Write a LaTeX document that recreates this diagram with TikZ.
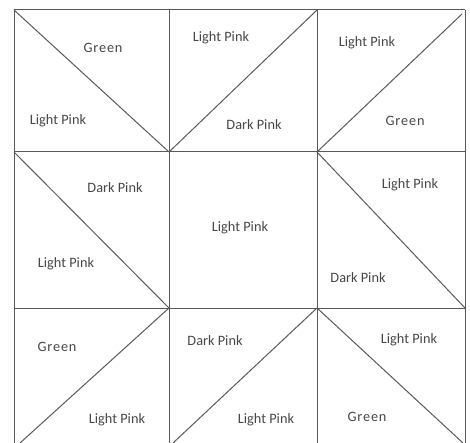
\documentclass[tikz,border=0pt]{standalone}
\usepackage{fontspec}
\setmainfont{Carlito}
\begin{document}
\begin{tikzpicture}[x=1pt,y=-1pt,
  gridline/.style={draw=black!65, line width=1pt},
  lbl/.style={font=\fontsize{14.3}{16}\selectfont, text=black!72, inner sep=0pt},
  grn/.style={lbl, font=\fontsize{14.3}{16}\selectfont\addfontfeatures{LetterSpace=6}}]
\useasboundingbox (0,0) rectangle (470,443);
% grid corners
\coordinate (a0) at (14,10);  \coordinate (a1) at (169,10);  \coordinate (a2) at (317,10);  \coordinate (a3) at (465,10);
\coordinate (b0) at (14,152); \coordinate (b1) at (169,152); \coordinate (b2) at (317,152); \coordinate (b3) at (465,152);
\coordinate (c0) at (14,308); \coordinate (c1) at (169,308); \coordinate (c2) at (317,308); \coordinate (c3) at (465,308);
\coordinate (d0) at (14,443); \coordinate (d1) at (169,443); \coordinate (d2) at (317,443); \coordinate (d3) at (465,443);
\coordinate (tr) at (462,14);
\coordinate (e1) at (20,443); \coordinate (e2) at (173,443); \coordinate (e3) at (463,443);
% grid lines
\draw[gridline] (a0) -- (a3);
\draw[gridline] (b0) -- (b3);
\draw[gridline] (c0) -- (c3);
\draw[gridline] (a0) -- (d0);
\draw[gridline] (a1) -- (d1);
\draw[gridline] (a2) -- (d2);
\draw[gridline] (a3) -- (d3);
% diagonals
\draw[gridline] (a0) -- (b1);
\draw[gridline] (b1) -- (a2);
\draw[gridline] (b2) -- (tr);
\draw[gridline] (b0) -- (c1);
\draw[gridline] (b2) -- (c3);
\draw[gridline] (c1) -- (e1);
\draw[gridline] (c2) -- (e2);
\draw[gridline] (c2) -- (e3);
% labels
\node[grn] (t11) at (103,48) {Green};
\node[lbl] (t12) at (58,121) {Light Pink};
\node[lbl] (t21) at (221,38) {Light Pink};
\node[lbl] (t22) at (254,125) {Dark Pink};
\node[lbl] (t31) at (367,43) {Light Pink};
\node[grn] (t32) at (405,121) {Green};
\node[lbl] (t41) at (115,188) {Dark Pink};
\node[lbl] (t42) at (66,264) {Light Pink};
\node[lbl] (t51) at (240,228) {Light Pink};
\node[lbl] (t61) at (410,185) {Light Pink};
\node[lbl] (t62) at (358,278) {Dark Pink};
\node[grn] (t71) at (57,347) {Green};
\node[lbl] (t72) at (117,420) {Light Pink};
\node[lbl] (t81) at (215,341) {Dark Pink};
\node[lbl] (t82) at (266,420) {Light Pink};
\node[lbl] (t91) at (409,340) {Light Pink};
\node[grn] (t92) at (367,417) {Green};
\end{tikzpicture}
\end{document}
